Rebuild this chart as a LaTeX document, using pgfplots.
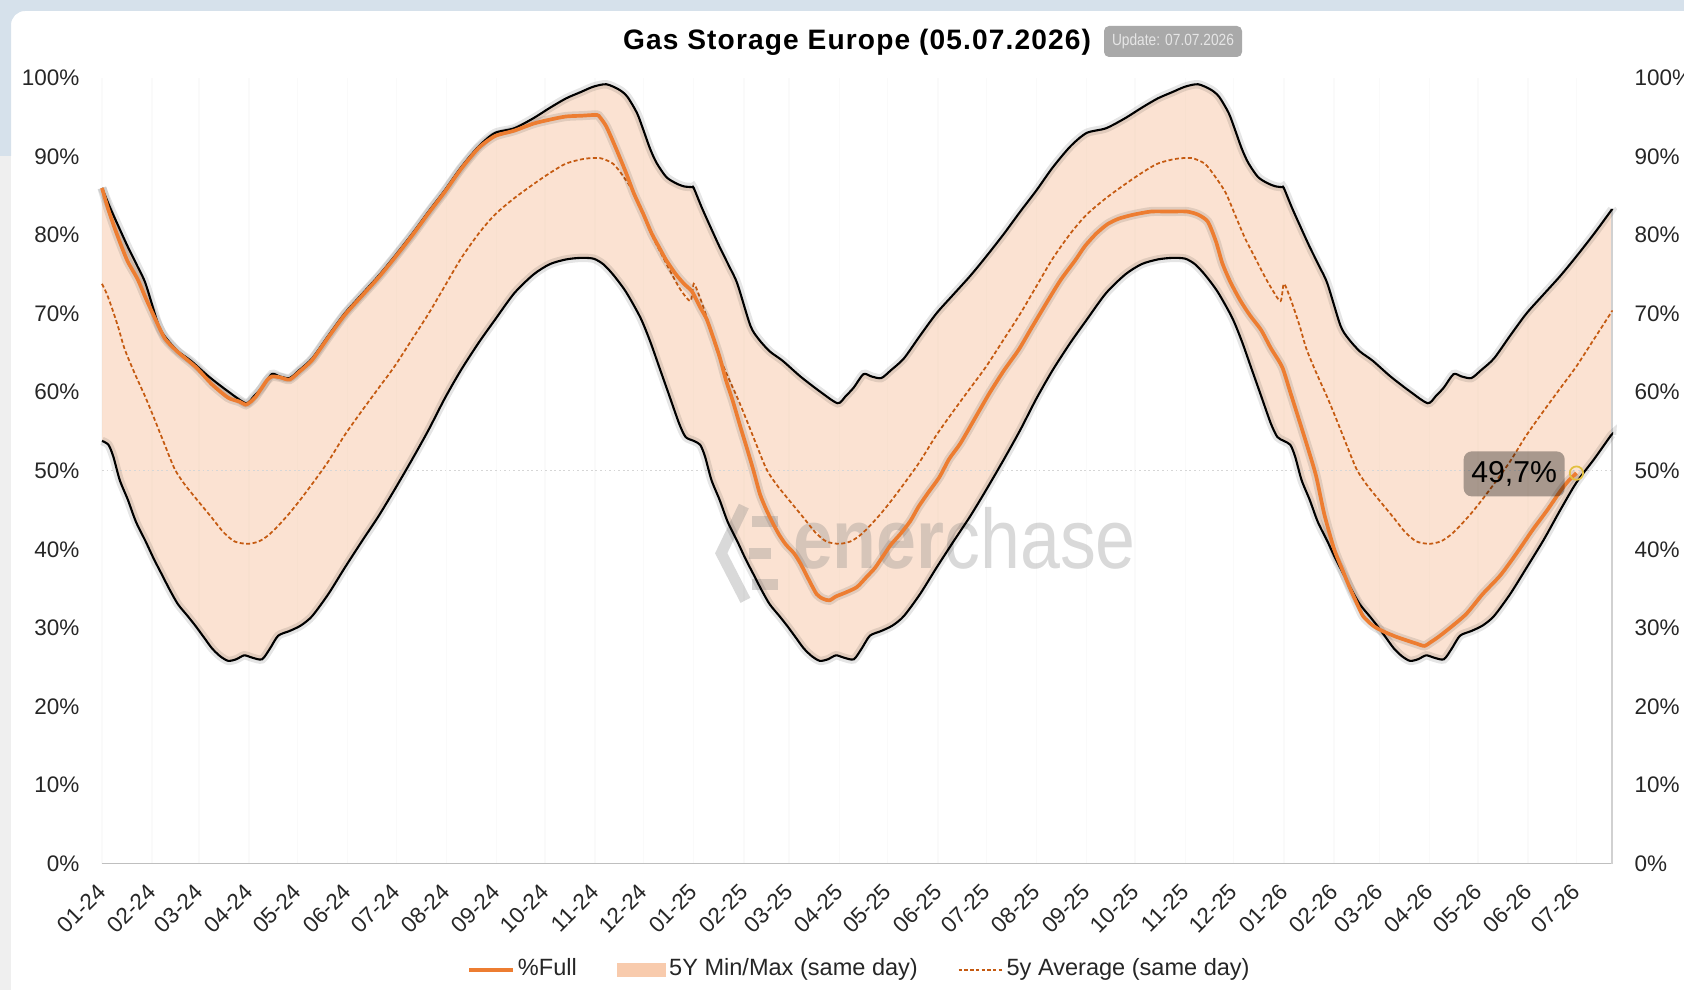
\documentclass[border=0pt]{standalone}
\usepackage{pgfplots}
\pgfplotsset{compat=1.18}
\usepackage{pgfplotstable}
\usepgfplotslibrary{fillbetween}
\usepackage{fontspec}
\setmainfont{Liberation Sans}
\newfontfamily\narrowfont[FakeStretch=0.85]{Liberation Sans}
\newfontfamily\wmfont[FakeStretch=0.85]{Liberation Sans}

\definecolor{bgblue}{HTML}{D6E1EB}
\definecolor{bggrey}{HTML}{EFEFEF}
\definecolor{peach}{HTML}{F8CBAD}
\definecolor{orangeF}{HTML}{ED7D31}
\definecolor{avgcol}{HTML}{C55A11}
\definecolor{tickcol}{HTML}{262626}
\definecolor{axisgrey}{HTML}{BFBFBF}
\definecolor{badge}{HTML}{A9A9A9}
\definecolor{badgetext}{HTML}{E6E6E6}
\definecolor{ringcol}{HTML}{E2C040}

\newcommand\tickfont{\fontsize{6.4}{7.4}\selectfont}
\newcommand\legfont{\fontsize{6.7}{7.7}\selectfont}

% 5Y max (same day)
\pgfplotstableread{
d v
0 86.0
5 83.5
10 81.2
16 78.5
22 76.0
27 73.8
35 68.5
40 66.8
47 65.2
55 64.0
66 62.0
78 60.1
89 58.6
94 59.5
99 60.6
105 62.3
110 62.0
116 61.8
122 62.8
130 64.3
140 67.2
150 70.0
160 72.3
171 74.8
181 77.3
192 80.2
202 83.0
212 85.7
222 88.6
233 91.3
243 93.0
255 93.6
267 94.9
277 96.2
287 97.4
296 98.2
304 98.9
312 99.2
320 98.5
325 97.6
331 95.5
335 93.3
339 91.0
343 89.2
349 87.4
355 86.6
360 86.2
365 86.1
366 86.0
371 83.5
376 81.2
382 78.5
388 76.0
393 73.8
401 68.5
406 66.8
413 65.2
421 64.0
432 62.0
444 60.1
455 58.6
460 59.5
465 60.6
471 62.3
476 62.0
482 61.8
488 62.8
496 64.3
506 67.2
516 70.0
526 72.3
537 74.8
547 77.3
558 80.2
568 83.0
578 85.7
588 88.6
599 91.3
609 93.0
621 93.6
633 94.9
643 96.2
653 97.4
662 98.2
670 98.9
678 99.2
686 98.5
691 97.6
697 95.5
701 93.3
705 91.0
709 89.2
715 87.4
721 86.6
726 86.2
730 86.1
731 86.0
736 83.5
741 81.2
747 78.5
753 76.0
758 73.8
766 68.5
771 66.8
778 65.2
786 64.0
797 62.0
809 60.1
820 58.6
825 59.5
830 60.6
836 62.3
841 62.0
847 61.8
853 62.8
861 64.3
871 67.2
881 70.0
891 72.3
902 74.8
912 77.3
923 80.2
933 83.0
934 83.3
}\maxtab

% 5Y min (same day)
\pgfplotstableread{
d v
0 53.8
4 53.3
7 51.8
11 48.8
16 46.3
21 43.5
27 41.0
32 38.8
37 36.8
42 34.8
47 33.0
53 31.5
58 30.2
63 28.8
68 27.4
73 26.4
78 25.8
83 26.0
88 26.5
93 26.2
99 26.0
104 27.4
109 29.0
116 29.6
123 30.3
130 31.5
140 34.3
150 37.6
161 41.1
171 44.2
181 47.6
192 51.5
202 55.2
212 59.2
222 62.8
233 66.3
243 69.2
255 72.6
267 75.0
277 76.3
287 76.9
296 77.1
304 77.0
310 76.3
316 75.0
324 72.8
333 69.5
339 66.5
345 63.0
351 59.5
357 56.0
361 54.3
366 53.8
370 53.3
373 51.8
377 48.8
382 46.3
387 43.5
393 41.0
398 38.8
403 36.8
408 34.8
413 33.0
419 31.5
424 30.2
429 28.8
434 27.4
439 26.4
444 25.8
449 26.0
454 26.5
459 26.2
465 26.0
470 27.4
475 29.0
482 29.6
489 30.3
496 31.5
506 34.3
516 37.6
527 41.1
537 44.2
547 47.6
558 51.5
568 55.2
578 59.2
588 62.8
599 66.3
609 69.2
621 72.6
633 75.0
643 76.3
653 76.9
662 77.1
670 77.0
676 76.3
682 75.0
690 72.8
699 69.5
705 66.5
711 63.0
717 59.5
723 56.0
727 54.3
731 53.8
735 53.3
738 51.8
742 48.8
747 46.3
752 43.5
758 41.0
763 38.8
768 36.8
773 34.8
778 33.0
784 31.5
789 30.2
794 28.8
799 27.4
804 26.4
809 25.8
814 26.0
819 26.5
824 26.2
830 26.0
835 27.4
840 29.0
847 29.6
854 30.3
861 31.5
871 34.3
881 37.6
892 41.3
902 45.0
912 48.5
923 51.5
933 54.4
934 54.6
}\mintab

% 5y average (same day)
\pgfplotstableread{
d v
0 73.8
3 72.5
6 70.8
10 68.3
14 65.5
20 62.5
27 59.3
33 56.3
39 53.2
45 50.2
51 48.3
58 46.5
68 44.0
75 42.2
82 41.0
90 40.7
97 41.0
103 41.8
109 43.0
116 44.6
123 46.4
131 48.6
140 51.2
150 54.5
161 57.7
171 60.5
181 63.3
192 66.8
202 70.0
212 73.5
222 77.0
233 80.2
243 82.6
255 84.7
267 86.5
277 87.9
287 89.1
298 89.7
308 89.8
316 89.1
322 87.6
329 85.4
335 82.5
341 79.6
347 77.2
353 74.8
358 73.0
364 71.6
366 73.8
369 72.5
372 70.8
376 68.3
380 65.5
386 62.5
393 59.3
399 56.3
405 53.2
411 50.2
417 48.3
424 46.5
434 44.0
441 42.2
448 41.0
456 40.7
463 41.0
469 41.8
475 43.0
482 44.6
489 46.4
497 48.6
506 51.2
516 54.5
527 57.7
537 60.5
547 63.3
558 66.8
568 70.0
578 73.5
588 77.0
599 80.2
609 82.6
621 84.7
633 86.5
643 87.9
653 89.1
664 89.7
674 89.8
682 89.1
688 87.6
695 85.4
701 82.5
707 79.6
713 77.2
719 74.8
724 73.0
729 71.6
731 73.8
734 72.5
737 70.8
741 68.3
745 65.5
751 62.5
758 59.3
764 56.3
770 53.2
776 50.2
782 48.3
789 46.5
799 44.0
806 42.2
813 41.0
821 40.7
828 41.0
834 41.8
840 43.0
847 44.6
854 46.4
862 48.6
871 51.2
881 54.5
892 57.7
902 60.5
912 63.3
923 66.8
933 70.0
934 70.4
}\avgtab

% %Full
\pgfplotstableread{
d v
0 86.0
4 83.2
8 80.8
12 78.6
16 76.6
22 74.4
27 72.0
33 69.3
39 66.8
47 65.1
58 63.2
68 61.0
78 59.3
85 58.8
89 58.4
92 58.8
95 59.4
99 60.6
102 61.5
105 62.0
110 61.9
116 61.6
122 62.6
130 64.1
140 67.0
150 69.8
160 72.1
171 74.6
181 77.1
192 80.0
202 82.8
212 85.5
222 88.4
233 91.1
243 92.6
255 93.3
267 94.2
277 94.7
287 95.1
297 95.2
306 95.3
308 95.0
312 93.8
318 91.0
324 88.0
329 85.3
335 82.6
340 80.2
345 78.3
349 76.8
355 75.0
360 73.8
365 72.8
370 70.8
374 69.3
378 67.0
382 64.5
386 61.5
390 59.0
395 55.5
399 52.8
403 50.0
407 47.0
411 45.0
415 43.3
419 41.8
423 40.6
428 39.5
432 38.2
437 36.2
442 34.3
446 33.7
450 33.5
454 34.0
460 34.5
467 35.2
473 36.5
478 37.6
483 39.1
488 40.6
494 42.0
500 43.6
505 45.4
511 47.2
518 49.2
524 51.5
531 53.5
540 56.7
549 59.9
558 62.8
567 65.4
575 68.2
584 71.3
593 74.3
602 76.8
608 78.6
615 80.2
622 81.4
629 82.1
638 82.6
649 83.0
660 83.0
671 83.0
678 82.6
684 81.7
689 79.2
693 76.4
698 74.0
704 71.7
710 69.8
717 67.9
723 65.6
730 63.2
735 60.0
741 56.1
746 52.8
751 49.3
756 44.5
762 40.1
767 37.5
772 35.0
776 33.2
780 31.5
786 30.3
792 29.6
800 28.9
807 28.4
813 28.0
818 27.7
822 28.2
827 28.9
835 30.2
844 31.8
854 34.3
865 36.7
875 39.5
885 42.5
894 45.0
902 47.4
907 48.7
912 49.7
}\fulltab

\begin{document}
\begin{tikzpicture}[x=1mm,y=1mm]
% screenshot background (only the non-white margins)
\fill[bggrey] (0,0) rectangle (1.1,83.4);
\fill[bgblue] (0,83.4) -- (0,99) -- (168.4,99) -- (168.4,97.9) [rounded corners=1.4mm] -- (1.1,97.9) [sharp corners] -- (1.1,83.4) -- cycle;

% title and badge
\node[font=\fontsize{8}{9}\selectfont\bfseries\addfontfeatures{LetterSpace=4}, text=black, inner sep=0pt] at (85.7,94.8) {Gas Storage Europe (05.07.2026)};
\node[fill=badge, rounded corners=0.5mm, minimum width=13.8mm, minimum height=3.1mm, inner sep=0pt, text=badgetext, font=\narrowfont\fontsize{4.6}{5}\selectfont] at (117.3,94.85) {Update: 07.07.2026};

\begin{axis}[
  at={(10.2mm,12.65mm)}, anchor=south west,
  width=151mm, height=78.55mm, scale only axis,
  xmin=0, xmax=934, ymin=0, ymax=100,
  clip=false,
  separate axis lines,
  axis x line*=bottom,
  axis y line*=left,
  x axis line style={draw=axisgrey, line width=0.5pt, -},
  y axis line style={draw=none},
  xtick={0,31,60,91,121,152,182,213,244,274,305,335,366,397,425,456,486,517,547,578,609,639,670,700,731,762,790,821,851,882,912},
  xticklabels={01-24,02-24,03-24,04-24,05-24,06-24,07-24,08-24,09-24,10-24,11-24,12-24,01-25,02-25,03-25,04-25,05-25,06-25,07-25,08-25,09-25,10-25,11-25,12-25,01-26,02-26,03-26,04-26,05-26,06-26,07-26},
  ytick={0,10,...,100},
  yticklabel={\pgfmathprintnumber{\tick}\%},
  /pgf/number format/assume math mode=true,
  major tick length=0pt,
  tick style={draw=none},
  xmajorgrids,
  grid style={draw=black!2, line width=0.4pt},
  tick label style={font=\tickfont, text=tickcol},
  yticklabel style={anchor=east, inner sep=0pt, xshift=-2.2mm},
  xticklabel style={xshift=-0.6mm, yshift=-1.8mm, rotate=45, anchor=north east, inner sep=0pt},
  legend style={at={(axis description cs:0.502,-0.1356)}, anchor=center, draw=none, fill=none,
     font=\legfont, text=tickcol, inner sep=0pt, nodes={inner sep=0.3mm},
     /tikz/every even column/.append style={column sep=3.7mm}},
  legend columns=3,
  legend cell align=left,
]
\addplot[draw=none, name path=maxp, smooth, tension=0.45, forget plot] table[x=d,y=v] {\maxtab};
\addplot[draw=none, name path=minp, smooth, tension=0.45, forget plot] table[x=d,y=v] {\mintab};
\addplot[fill=peach, fill opacity=0.55, draw=none, forget plot] fill between[of=maxp and minp];
\addplot[draw=black!16, line width=0.4pt, dash pattern=on 0.5pt off 0.8pt, forget plot] coordinates {(0,50) (934,50)};
\addplot[draw=black!18, line width=0.5pt, forget plot] coordinates {(934,0) (934,83.3)};

% watermark
\node[anchor=base west, inner sep=0pt, text=black!50, text opacity=0.3, font=\wmfont\fontsize{24}{26}\selectfont] at (axis cs:427,37.6) {\textbf{ener}chase};
\begin{scope}[draw=black!50, draw opacity=0.3, line width=1.1mm]
\draw (axis cs:397,45.5) -- (axis cs:383,39.5) -- (axis cs:398,33.5);
\draw (axis cs:402,43.5) -- (axis cs:418,43.5);
\draw (axis cs:400,39.5) -- (axis cs:414,39.5);
\draw (axis cs:402,35.5) -- (axis cs:418,35.5);
\end{scope}

% soft shadows
\addplot[draw=black, draw opacity=0.10, line width=2.4pt, smooth, tension=0.45, forget plot] table[x=d,y=v] {\maxtab};
\addplot[draw=black, draw opacity=0.10, line width=2.4pt, smooth, tension=0.45, forget plot] table[x=d,y=v] {\mintab};
% min / max lines
\addplot[draw=black, line width=0.6pt, smooth, tension=0.45, forget plot] table[x=d,y=v] {\maxtab};
\addplot[draw=black, line width=0.6pt, smooth, tension=0.45, forget plot] table[x=d,y=v] {\mintab};
% average
\addplot[draw=avgcol, line width=0.5pt, dash pattern=on 0.4mm off 0.25mm, smooth, tension=0.45, forget plot] table[x=d,y=v] {\avgtab};
% %Full
\addplot[draw=black, draw opacity=0.10, line width=2.6pt, smooth, tension=0.4, forget plot] table[x=d,y=v] {\fulltab};
\addplot[draw=orangeF, line width=1.05pt, line join=round, smooth, tension=0.4, forget plot] table[x=d,y=v] {\fulltab};
\addplot[only marks, mark=o, mark size=1.9pt, mark options={draw=ringcol, line width=0.5pt}, forget plot] coordinates {(912,49.7)};

\node[fill=black, fill opacity=0.33, text opacity=1, text=black, rounded corners=0.8mm, minimum width=10.1mm, minimum height=4.5mm, inner sep=0pt, font=\fontsize{8.6}{9}\selectfont] at (axis cs:873.5,49.6) {49,7\%};

% right-hand tick labels
\pgfplotsinvokeforeach{0,10,20,30,40,50,60,70,80,90,100}{
  \node[anchor=west, inner sep=0pt, font=\tickfont, text=tickcol, xshift=2.2mm] at (axis cs:934,#1) {#1\%};
}

\addlegendimage{legend image code/.code={\draw[orangeF, line width=1pt] (0mm,0mm) -- (4.4mm,0mm);}}
\addlegendentry{\%Full}
\addlegendimage{legend image code/.code={\fill[peach] (0mm,-0.65mm) rectangle (4.8mm,0.65mm);}}
\addlegendentry{5Y Min/Max (same day)}
\addlegendimage{legend image code/.code={\draw[avgcol, line width=0.5pt, dash pattern=on 0.35mm off 0.22mm] (0mm,0mm) -- (4.4mm,0mm);}}
\addlegendentry{5y Average (same day)}
\end{axis}
\pgfresetboundingbox
\path[use as bounding box] (0,0) rectangle (168.4,99);
\end{tikzpicture}
\end{document}
